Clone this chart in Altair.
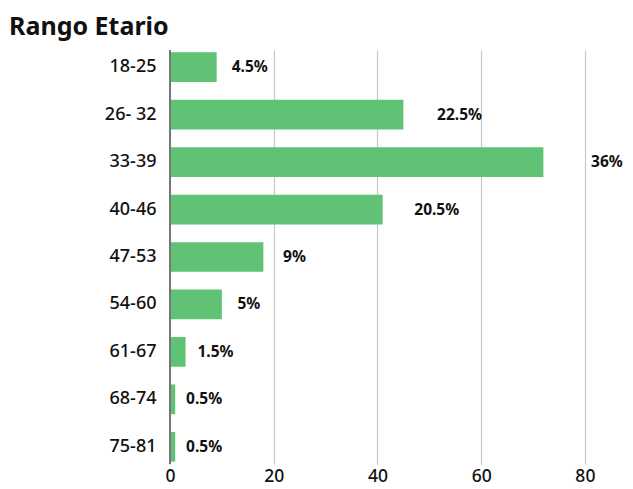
import altair as alt
import pandas as pd

categories = ["18-25", "26- 32", "33-39", "40-46", "47-53", "54-60", "61-67", "68-74", "75-81"]
values = [9, 45, 72, 41, 18, 10, 3, 1, 1]
labels = ["4.5%", "22.5%", "36%", "20.5%", "9%", "5%", "1.5%", "0.5%", "0.5%"]
x_ticks = [0, 20, 40, 60, 80]

df = pd.DataFrame({"cat": categories, "val": values, "lab": labels})

FONT = "Noto Sans"

y_enc = alt.Y("cat:N", sort=categories, title=None,
              scale=alt.Scale(paddingInner=0.374, paddingOuter=0.05),
              axis=alt.Axis(labelFont=FONT, labelFontSize=18, labelColor="#111",
                            labelFontWeight=500,
                            labelPadding=14, ticks=False, domain=False, grid=False))

bars = alt.Chart(df).mark_bar(color="#5FC274").encode(
    x=alt.X("val:Q", title=None,
            scale=alt.Scale(domain=[0, 86], nice=False),
            axis=alt.Axis(values=x_ticks, labelFont=FONT, labelFontSize=17.5, labelColor="#111",
                          labelFontWeight=500, labelFlush=False,
                          labelPadding=3, ticks=False, domain=False, grid=True,
                          gridColor="#c8c8c8", gridWidth=1.2)),
    y=y_enc,
)

zero = alt.Chart(df).mark_rule(color="#777", strokeWidth=1.5).encode(
    x=alt.datum(0),
)

text = alt.Chart(df).transform_calculate(
    lx="datum.val * 1.1 + 2"
).mark_text(align="left", baseline="middle", font=FONT, fontSize=15.5,
            fontWeight="bold", color="#111").encode(
    x=alt.X("lx:Q"),
    y=alt.Y("cat:N", sort=categories),
    text="lab:N",
)

chart = alt.layer(bars, zero, text).properties(
    width=446, height=414,
    title=alt.TitleParams("Rango Etario", anchor="start", frame="group", dx=-161, offset=9,
                          font=FONT, fontSize=25, fontWeight="bold", color="#111"),
    autosize=alt.AutoSizeParams(type="none"),
    padding={"left": 162, "top": 42, "right": 9, "bottom": 22},
).configure_view(stroke=None)

chart.save("out.html", embed_options={"renderer": "svg", "actions": False})
